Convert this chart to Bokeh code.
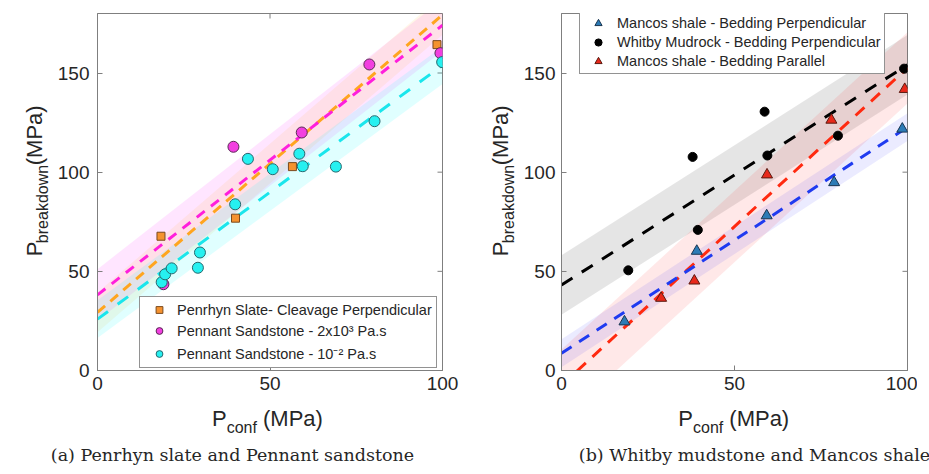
from math import pi
from bokeh.plotting import figure
from bokeh.models import Range1d, FixedTicker, Legend, LegendItem
from bokeh.core.properties import value
from bokeh.layouts import row, column
from bokeh.embed import file_html
from bokeh.resources import INLINE

# ---------------- Panel (a) data ----------------
slate_x = [18.4, 40.0, 56.5, 98.4]
slate_y = [67.7, 76.8, 102.8, 164.3]
sand_hi_x = [19.1, 39.4, 59.2, 78.8, 99.4]
sand_hi_y = [43.5, 112.8, 120.0, 154.3, 160.0]
sand_lo_x = [18.6, 19.6, 21.5, 29.1, 29.7, 39.9, 43.6, 50.8, 58.5, 59.5, 69.1, 80.3, 99.9]
sand_lo_y = [44.5, 48.5, 51.5, 51.8, 59.5, 83.8, 106.7, 101.5, 109.3, 103.0, 102.8, 125.7, 155.5]
# linear fits: intercept, slope, half-width of shaded band
fit_a = {
    "slate": (29.3, 1.50, 10.0),
    "sand_hi": (38.1, 1.36, 13.0),
    "sand_lo": (25.9, 1.28, 9.5),
}
labels_a = ["Penrhyn Slate- Cleavage Perpendicular",
            "Pennant Sandstone - 2x10\u00b3 Pa.s",
            "Pennant Sandstone - 10\u207b\u00b2 Pa.s"]

# ---------------- Panel (b) data ----------------
mperp_x = [18.2, 39.1, 59.3, 78.8, 98.5]
mperp_y = [24.6, 60.2, 78.1, 94.8, 121.8]
whitby_x = [19.3, 39.4, 37.9, 59.5, 58.7, 79.9, 99.0]
whitby_y = [50.5, 70.9, 107.7, 108.4, 130.5, 118.4, 152.2]
mpar_x = [28.8, 38.4, 59.4, 78.0, 99.2]
mpar_y = [36.5, 45.2, 98.7, 126.3, 141.8]
fit_b = {
    "whitby": (43.1, 1.11, 15.0),
    "mperp": (8.7, 1.14, 7.0),
    "mpar": (-7.4, 1.60, 18.0),
}
labels_b = ["Mancos shale - Bedding Perpendicular",
            "Whitby Mudrock - Bedding Perpendicular",
            "Mancos shale - Bedding Parallel"]

captions = ["(a) Penrhyn slate and Pennant sandstone",
            "(b) Whitby mudstone and Mancos shale"]

x_ticks = [0, 50, 100]
y_ticks = [0, 50, 100, 150]
x_lim = (0, 100)
y_lim = (0, 180)
x_fit = [0, 100]

FONT = "Liberation Sans"
TXT = "#262626"
GRID = "#7f7f7f"
MAIN_H = 400


def make_fig(min_right, fw, standoff):
    p = figure(frame_width=fw, frame_height=357, x_range=Range1d(*x_lim), y_range=Range1d(*y_lim),
               output_backend="svg", toolbar_location=None,
               min_border_left=40, min_border_right=min_right,
               min_border_top=13, min_border_bottom=30,
               background_fill_color="white", border_fill_color="white")
    p.xgrid.visible = False
    p.ygrid.visible = False
    p.outline_line_color = GRID
    p.outline_line_width = 1
    for ax in p.xaxis:
        ax.ticker = FixedTicker(ticks=x_ticks)
    for ax in p.yaxis:
        ax.ticker = FixedTicker(ticks=y_ticks)
    for ax in p.axis:
        ax.axis_line_color = GRID
        ax.major_tick_line_color = GRID
        ax.major_tick_in = 5
        ax.major_tick_out = 0
        ax.minor_tick_line_color = None
        ax.major_label_text_font = FONT
        ax.major_label_text_font_size = "19px"
        ax.major_label_text_color = TXT
    p.xaxis[0].major_label_standoff = 6
    p.yaxis[0].major_label_standoff = standoff
    # mirrored inward ticks on the top and right edges (half of each dash is clipped by the frame)
    p.scatter(x=x_ticks, y=[y_lim[1]] * len(x_ticks), marker="dash", angle=pi / 2, size=10,
              line_color=GRID, line_width=1)
    p.scatter(x=[x_lim[1]] * len(y_ticks), y=y_ticks, marker="dash", size=10,
              line_color=GRID, line_width=1)
    return p


def text_fig(w, h):
    f = figure(width=w, height=h, x_range=Range1d(0, w), y_range=Range1d(h, 0),
               output_backend="svg", toolbar_location=None, min_border=0,
               x_axis_type=None, y_axis_type=None,
               background_fill_color="white", border_fill_color="white")
    f.outline_line_color = None
    f.grid.visible = False
    return f


def put(f, text, x, y, size, angle=0.0, align="left", font=FONT):
    f.text(x=[x], y=[y], text=[text], angle=angle, text_align=align, text_baseline="alphabetic",
           text_font=value(font), text_font_size=value(size), text_color=TXT)


def ylabel_fig(w, base_x):
    f = text_fig(w, MAIN_H)
    y0 = 272
    put(f, "P", base_x, y0, "22px", angle=pi / 2)
    put(f, "breakdown", base_x + 8, y0 - 14.7, "16px", angle=pi / 2)
    put(f, "(MPa)", base_x, y0 - 14.7 - 78.3 - 9, "22px", angle=pi / 2)
    return f


def bottom_fig(w, xlab_x, caption, cap_x):
    f = text_fig(w, 72)
    put(f, "P", xlab_x, 18, "22px")
    put(f, "conf", xlab_x + 14.7, 26.5, "16px")
    put(f, "(MPa)", xlab_x + 14.7 + 30.2 + 6.1, 18, "22px")
    put(f, caption, cap_x, 54, "17.5px", align="center", font="DejaVu Serif")
    return f


def add_band(p, fit, color, alpha):
    a, b, w = fit
    yl = [a + b * x for x in x_fit]
    p.varea(x=x_fit, y1=[v - w for v in yl], y2=[v + w for v in yl], fill_color=color, fill_alpha=alpha)


def add_line(p, fit, color, dash):
    a, b, w = fit
    p.line(x=x_fit, y=[a + b * x for x in x_fit], line_color=color, line_width=3, line_dash=dash)


def style_legend(leg, pad, h, sp, gw, st):
    leg.padding = pad
    leg.margin = 0
    leg.spacing = sp
    leg.label_height = h
    leg.glyph_height = h
    leg.glyph_width = gw
    leg.label_standoff = st
    leg.label_text_font = FONT
    leg.label_text_font_size = "14.5px"
    leg.label_text_color = TXT
    leg.border_line_color = "#262626"
    leg.border_line_width = 1
    leg.background_fill_color = "white"
    leg.background_fill_alpha = 1.0


# ---------------- Figure (a) ----------------
pa = make_fig(34, 345, 8)
add_band(pa, fit_a["sand_hi"], "#ff00ff", 0.10)
add_band(pa, fit_a["slate"], "#ffa500", 0.09)
add_band(pa, fit_a["sand_lo"], "#00ffff", 0.12)
add_line(pa, fit_a["slate"], "#ffa51f", "10 7")
add_line(pa, fit_a["sand_hi"], "#ff1fdc", "10 8")
add_line(pa, fit_a["sand_lo"], "#1ae6ec", "13 12")
r_slate = pa.scatter(slate_x, slate_y, marker="square", size=8, fill_color="#f5922f", line_color="#7a4a1f")
r_hi = pa.scatter(sand_hi_x, sand_hi_y, marker="circle", size=11, fill_color="#f23fe0", line_color="#5a2a55")
r_lo = pa.scatter(sand_lo_x, sand_lo_y, marker="circle", size=11, fill_color="#26f0f0", line_color="#27686e")
leg_a = Legend(items=[LegendItem(label=labels_a[0], renderers=[r_slate]),
                      LegendItem(label=labels_a[1], renderers=[r_hi]),
                      LegendItem(label=labels_a[2], renderers=[r_lo])],
               location=(42, 2))
pa.add_layout(leg_a)
style_legend(leg_a, 4, 17, 4, 30, 3)

# ---------------- Figure (b) ----------------
pb = make_fig(10, 346, 6)
add_band(pb, fit_b["whitby"], "#000000", 0.10)
add_band(pb, fit_b["mpar"], "#ff0000", 0.09)
add_band(pb, fit_b["mperp"], "#0000ff", 0.08)
add_line(pb, fit_b["whitby"], "#000000", "13 11")
add_line(pb, fit_b["mpar"], "#ff2a10", "12 9")
add_line(pb, fit_b["mperp"], "#1f3bf0", "12 9")
r_mperp = pb.scatter(mperp_x, mperp_y, marker="triangle", size=11, fill_color="#2c7bb6", line_color="#1a3550")
r_wh = pb.scatter(whitby_x, whitby_y, marker="circle", size=9, fill_color="#000000", line_color="#000000")
r_mpar = pb.scatter(mpar_x, mpar_y, marker="triangle", size=11, fill_color="#e8281a", line_color="#5a1a10")
leg_b = Legend(items=[LegendItem(label=labels_b[0], renderers=[r_mperp]),
                      LegendItem(label=labels_b[1], renderers=[r_wh]),
                      LegendItem(label=labels_b[2], renderers=[r_mpar])],
               location=(18, 296))
pb.add_layout(leg_b)
style_legend(leg_b, 3, 18, 1, 30, 4)

# ---------------- text panels ----------------
ya = ylabel_fig(54, 34)
yb = ylabel_fig(44, 24)
ba = bottom_fig(473, 211.5, captions[0], 232)
bb = bottom_fig(456, 201.8, captions[1], 278)

layout = row(column(row(ya, pa), ba), column(row(yb, pb), bb))
open("out.html", "w").write(file_html(layout, INLINE))
